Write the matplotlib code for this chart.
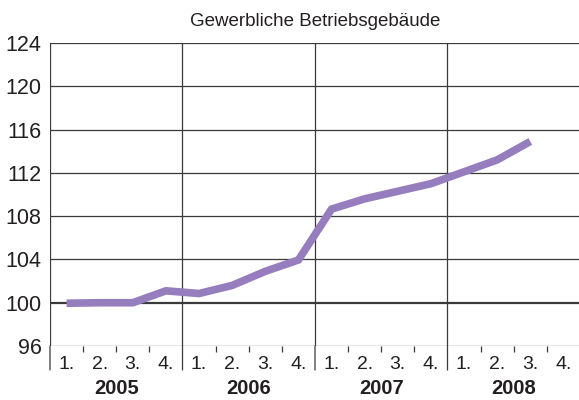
import matplotlib.pyplot as plt
from matplotlib.transforms import blended_transform_factory

years = ['2005', '2006', '2007', '2008']
quarter_labels = ['1.', '2.', '3.', '4.']
index_values = [99.95, 100.0, 100.0, 101.1,
                100.85, 101.6, 102.9, 103.95,
                108.65, 109.6, 110.3, 111.0,
                112.1, 113.2, 114.9]
y_ticks = [96, 100, 104, 108, 112, 116, 120, 124]

font = ['Liberation Sans Narrow', 'Liberation Sans', 'DejaVu Sans']
text_color = '#231f20'
grid_color = '#3a3a3a'
line_color = '#967dbe'

fig = plt.figure(figsize=(5.79, 4.0), dpi=100)
# axes in pixel terms: left 50, top 43, bottom 346, right past the edge
ax = fig.add_axes([50 / 579, (400 - 346) / 400, 530 / 579, 303 / 400])

n_q = len(years) * 4
ax.set_xlim(0, n_q)
ax.set_ylim(96, 124)

# horizontal grid
for y in y_ticks:
    lw = 1.6 if y == 100 else 0.9
    ax.axhline(y, color=grid_color, lw=lw, zorder=1)

# vertical year separators, running down into the label area
for i in range(len(years)):
    ax.plot([i * 4, i * 4], [96, 124], color=grid_color, lw=0.9, zorder=1)
    ax.annotate('', xy=(i * 4, 0), xycoords=('data', 'axes fraction'),
                xytext=(i * 4, -24 / 303), textcoords=('data', 'axes fraction'),
                arrowprops=dict(arrowstyle='-', color=grid_color, lw=0.9,
                                shrinkA=0, shrinkB=0))

x = [i + 0.5 for i in range(len(index_values))]
ax.plot(x, index_values, color=line_color, lw=5.5, solid_joinstyle='miter',
        solid_capstyle='butt', zorder=3)

for s in ax.spines.values():
    s.set_visible(False)

# y tick labels
ax.set_yticks(y_ticks)
ax.set_yticklabels([str(v) for v in y_ticks], family=font, fontsize=15.5,
                   color=text_color)
ax.tick_params(axis='y', length=0, pad=6)

# quarter labels at centres, tick marks at the boundaries
ax.set_xticks([i + 0.5 for i in range(n_q)])
ax.set_xticklabels(quarter_labels * len(years), family=font, fontsize=14,
                   color=text_color)
ax.set_xticks([i for i in range(1, n_q) if i % 4 != 0], minor=True)
ax.tick_params(axis='x', which='major', length=0, pad=7)
ax.tick_params(axis='x', which='minor', length=4.5, width=0.9, color=grid_color)

trans = blended_transform_factory(ax.transData, ax.transAxes)
for i, yr in enumerate(years):
    ax.text(i * 4 + 2, -42 / 303, yr, transform=trans, ha='center', va='center',
            family=font, fontsize=14.5, fontweight='bold', color=text_color)

fig.text(315 / 579, 1 - 22 / 400, 'Gewerbliche Betriebsgebäude', ha='center',
         va='center', family=font, fontsize=13.5, color=text_color)

fig.savefig('out.png', dpi=100)
